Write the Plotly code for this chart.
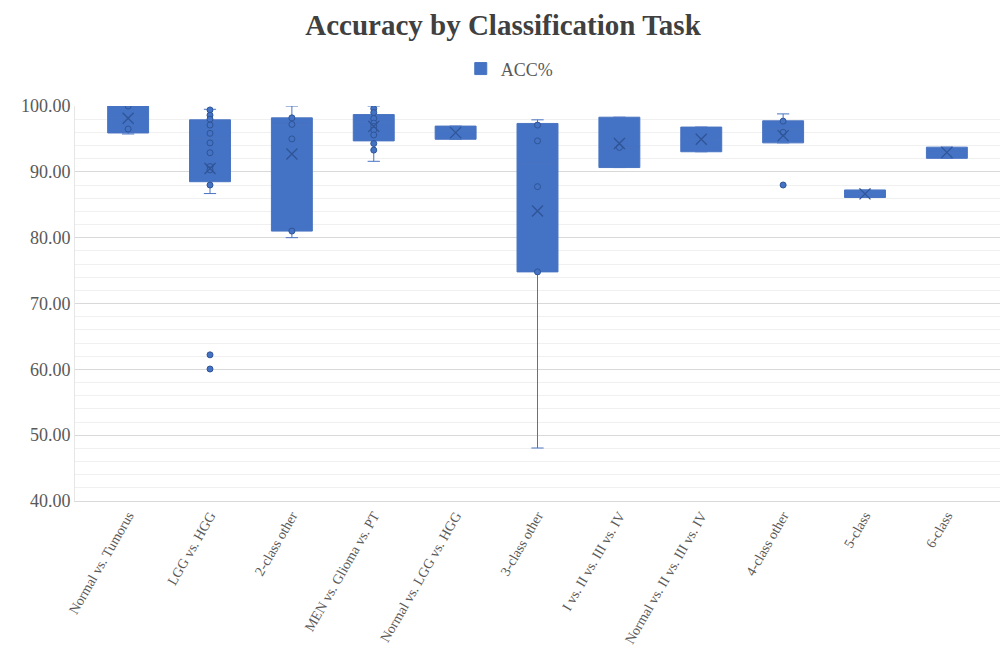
import plotly.graph_objects as go

# Classification tasks along the x axis
categories = [
    "Normal vs. Tumorus", "LGG vs. HGG", "2-class other", "MEN vs. Glioma vs. PT",
    "Normal vs. LGG vs. HGG", "3-class other", "I vs. II vs. III vs. IV",
    "Normal vs. II vs. III vs. IV", "4-class other", "5-class", "6-class",
]

# Box statistics of ACC% per task
q1 = [95.9, 88.5, 81.0, 94.7, 94.95, 74.8, 90.65, 93.05, 94.4, 86.1, 92.05]
median = [98.3, 95.1, 97.2, 97.5, 96.2, 91.3, 93.7, 94.95, 96.5, 86.65, 92.95]
q3 = [100.0, 97.9, 98.2, 98.7, 96.95, 97.35, 98.3, 96.8, 97.75, 87.25, 93.75]
lower_whisker = [95.75, 86.7, 80.0, 91.6, 94.95, 48.05, 90.65, 93.05, 94.4, 86.1, 92.05]
upper_whisker = [100.0, 99.5, 100.0, 100.0, 96.95, 97.9, 98.3, 96.8, 98.8, 87.25, 93.75]
mean = [98.15, 90.5, 92.7, 96.9, 95.95, 84.05, 94.3, 94.95, 95.5, 86.65, 92.95]

# Individual ACC% values shown as markers (inner points and outliers)
sample_points = [
    [100.0, 96.5],
    [99.4, 98.6, 98.0, 97.1, 95.85, 94.4, 92.9, 90.8, 90.3, 88.0, 62.2, 60.05],
    [98.2, 97.2, 95.0, 81.0],
    [99.6, 99.0, 98.1, 97.4, 96.9, 96.35, 95.6, 94.3, 93.3],
    [],
    [97.1, 94.7, 87.75, 74.8],
    [93.7],
    [],
    [97.7, 96.0, 88.0],
    [],
    [],
]

BLUE = "#4472C4"
DARK = "#2F5597"
FONT = "Liberation Serif"

fig = go.Figure()

fig.add_trace(go.Box(
    name="ACC%",
    x=categories,
    q1=q1, median=median, q3=q3,
    lowerfence=lower_whisker, upperfence=upper_whisker,
    fillcolor=BLUE,
    line=dict(color="#4A74C2", width=1),
    whiskerwidth=0.3,
    boxpoints=False,
    showlegend=True,
    hoverinfo="skip",
))

pt_x = [c for c, pts in zip(categories, sample_points) for _ in pts]
pt_y = [v for pts in sample_points for v in pts]
fig.add_trace(go.Scatter(
    x=pt_x, y=pt_y, mode="markers",
    marker=dict(symbol="circle", size=6, color=BLUE, line=dict(color=DARK, width=1)),
    showlegend=False, hoverinfo="skip",
))

fig.add_trace(go.Scatter(
    x=categories, y=mean, mode="markers",
    marker=dict(symbol="x-thin", size=11, line=dict(color=DARK, width=1.3)),
    showlegend=False, hoverinfo="skip",
))

fig.update_layout(
    width=1006, height=646,
    margin=dict(l=75, r=6, t=106, b=145),
    paper_bgcolor="white", plot_bgcolor="white",
    font=dict(family=FONT, color="#595959"),
    title=dict(
        text="<b>Accuracy by Classification Task</b>",
        x=0.5, xanchor="center", y=0.962, yanchor="middle",
        font=dict(family=FONT, size=29, color="#404040"),
    ),
    legend=dict(
        orientation="h", x=0.47, xanchor="center", y=1.094, yanchor="middle",
        font=dict(family=FONT, size=18, color="#595959"),
        itemwidth=30,
    ),
    boxgap=0.5,
    boxgroupgap=0,
)

fig.update_xaxes(
    type="category", tickangle=-60, showgrid=False,
    showline=True, linecolor="#D9D9D9", linewidth=1,
    tickfont=dict(family=FONT, size=14, color="#595959"),
    ticks="", automargin=False,
)
fig.update_yaxes(
    range=[40, 100], dtick=10, tickformat=".2f",
    showgrid=True, gridcolor="#D9D9D9", gridwidth=1,
    minor=dict(dtick=2, showgrid=True, gridcolor="#F0F0F0", gridwidth=1),
    showline=True, linecolor="#E6E6E6", zeroline=False,
    tickfont=dict(family=FONT, size=18, color="#595959"),
    ticks="", automargin=False,
)

fig.write_html("out.html")
